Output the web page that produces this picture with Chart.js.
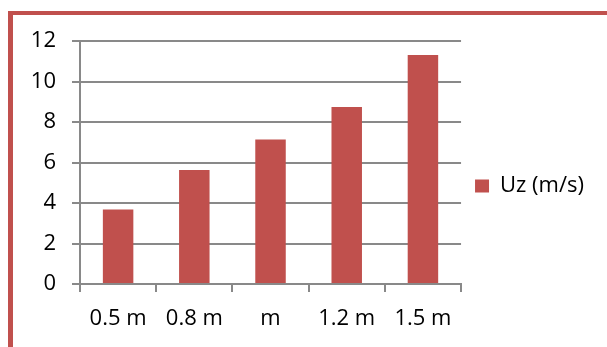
<!DOCTYPE html>
<html>
<head>
<meta charset="utf-8">
<script src="https://cdn.jsdelivr.net/npm/chart.js@4/dist/chart.umd.min.js"></script>
<style>
html,body{margin:0;padding:0;background:#fff;}
#wrap{position:relative;width:607px;height:347px;}
</style>
</head>
<body>
<div id="wrap"><canvas id="c" width="607" height="347"></canvas></div>
<script>
const categories = ["0.5 m", "0.8 m", "m", "1.2 m", "1.5 m"];
const seriesName = "Uz (m/s)";
const uzValues = [3.68, 5.63, 7.14, 8.74, 11.31];
const yTicks = [0, 2, 4, 6, 8, 10, 12];

const RED = "#C0504D";
const GRID = "#898989";
const FONT = "'Open Sans', Lato, sans-serif";

const frame = {
  id: "frame",
  beforeDraw(chart) {
    const ctx = chart.ctx;
    ctx.save();
    ctx.fillStyle = "#fff";
    ctx.fillRect(0, 0, chart.width, chart.height);
    ctx.fillStyle = RED;
    ctx.fillRect(8, 11, 5, chart.height - 11);
    ctx.fillRect(8, 11, chart.width - 8, 4);
    ctx.restore();
  }
};

new Chart(document.getElementById("c"), {
  type: "bar",
  data: {
    labels: categories,
    datasets: [{
      label: seriesName,
      data: uzValues,
      backgroundColor: RED,
      borderWidth: 0,
      categoryPercentage: 0.8,
      barPercentage: 0.5
    }]
  },
  options: {
    responsive: false,
    animation: false,
    devicePixelRatio: 1,
    layout: { padding: { left: 14, top: 41, right: 13, bottom: 16 } },
    plugins: {
      tooltip: { enabled: false },
      legend: {
        position: "right",
        labels: {
          color: "#000",
          font: { family: FONT, size: 22 },
          boxWidth: 14,
          boxHeight: 13,
          padding: 14
        }
      }
    },
    scales: {
      x: {
        grid: { display: true, drawOnChartArea: false, drawTicks: true, tickLength: 8, color: GRID, lineWidth: 2, offset: true },
        border: { display: true, color: GRID, width: 2 },
        ticks: { color: "#000", font: { family: FONT, size: 22 }, padding: 14, maxRotation: 0, autoSkip: false },
        afterFit(s) { s.height = 47; }
      },
      y: {
        min: 0, max: 12,
        afterBuildTicks(s) { s.ticks = yTicks.map(v => ({ value: v })); },
        grid: { color: GRID, lineWidth: 2, drawTicks: true, tickLength: 8 },
        border: { display: true, color: GRID, width: 2 },
        ticks: { color: "#000", font: { family: FONT, size: 22 }, padding: 16 },
        afterFit(s) { s.width = 66; }
      }
    }
  },
  plugins: [frame]
});
</script>
</body>
</html>
